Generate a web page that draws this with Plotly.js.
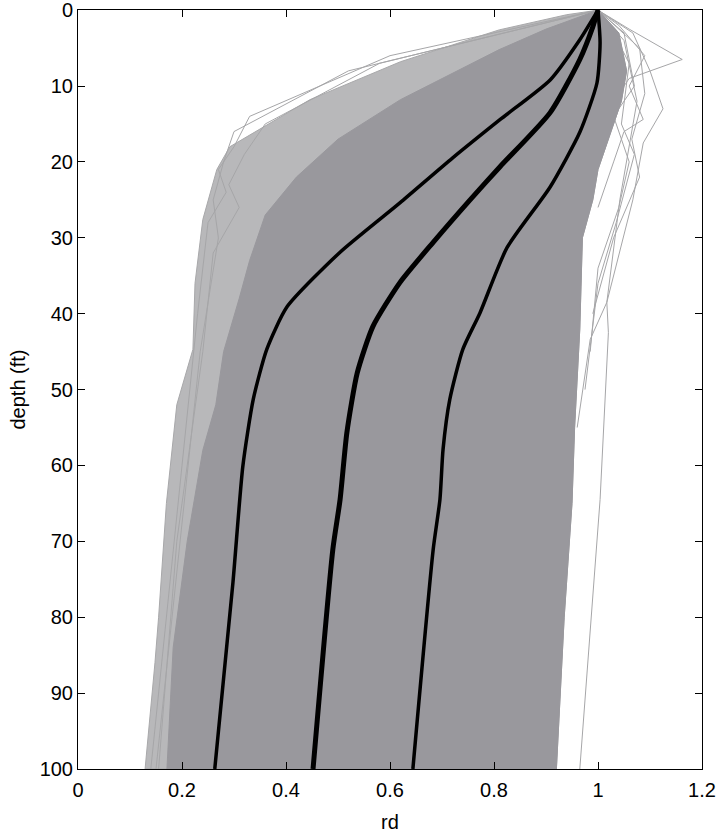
<!DOCTYPE html>
<html>
<head>
<meta charset="utf-8">
<script src="https://cdn.plot.ly/plotly-3.0.1.min.js"></script>
<style>html,body{margin:0;padding:0;background:#fff;}#chart{width:722px;height:833px;}</style>
</head>
<body>
<div id="chart"></div>
<script>
// ---- Data ----
// Black percentile curves (rd vs depth)
const lowDepth  = [0, 3.9, 9.2, 14.4, 19.5, 25.4, 31.9, 39.1, 44.7, 51.3, 60.1, 75.4, 100];
const lowRd     = [1.0, 0.965, 0.908, 0.812, 0.72, 0.619, 0.504, 0.402, 0.363, 0.337, 0.317, 0.298, 0.263];
const midDepth  = [0, 2.2, 6.5, 13.5, 20.6, 25.0, 30.6, 35.9, 41.7, 47.8, 55.7, 64.5, 71.1, 100];
const midRd     = [1.0, 0.99, 0.965, 0.908, 0.812, 0.754, 0.683, 0.619, 0.567, 0.537, 0.517, 0.504, 0.49, 0.452];
const highDepth = [0, 4.3, 9.6, 16.1, 23.3, 31.3, 39.9, 44.7, 51.3, 57.9, 64.5, 71.1, 100];
const highRd    = [1.0, 1.004, 0.998, 0.965, 0.908, 0.825, 0.773, 0.74, 0.715, 0.702, 0.696, 0.683, 0.644];

// Envelope of the dense band of simulated profiles
const denseLeftDepth  = [0, 2.5, 5.2, 11.8, 17, 22, 27, 33, 38, 45, 52, 58, 70, 84, 100];
const denseLeftRd     = [1.0, 0.9, 0.81, 0.62, 0.5, 0.42, 0.36, 0.33, 0.31, 0.28, 0.265, 0.24, 0.21, 0.183, 0.171];
const denseRightDepth = [0, 3, 8, 12, 16, 21, 25, 30, 42, 55, 65, 80, 100];
const denseRightRd    = [1.0, 1.04, 1.055, 1.045, 1.025, 1.0, 0.99, 0.97, 0.965, 0.955, 0.95, 0.935, 0.92];

// Outer envelope of the sparse (lighter) profiles on the left
const outerLeftDepth = [0, 0.6, 2.6, 6.8, 11.8, 18, 21, 27.6, 36, 44.7, 52, 65, 80, 86, 100];
const outerLeftRd    = [1.0, 0.94, 0.81, 0.62, 0.446, 0.292, 0.267, 0.24, 0.225, 0.221, 0.19, 0.17, 0.155, 0.148, 0.129];

// Individual outlying profiles
const out1Depth = [0, 2.5, 6.5, 9, 12, 16];
const out1Rd    = [1.0, 1.06, 1.162, 1.06, 1.03, 1.02];
const out2Depth = [0, 3, 8, 13, 17.5, 25, 38.5, 43.4, 55];
const out2Rd    = [1.0, 1.067, 1.1, 1.125, 1.087, 1.067, 1.017, 0.985, 0.96];
const out3Depth = [0, 2, 6, 10, 14.4, 16, 20, 26];
const out3Rd    = [1.0, 1.04, 1.09, 1.06, 1.087, 1.05, 1.03, 1.0];
const out4Depth = [0, 3, 10, 14, 20, 26, 34, 45];
const out4Rd    = [1.0, 1.05, 1.07, 1.03, 1.06, 1.04, 1.0, 0.985];
const out5Depth = [0, 4, 12, 18, 25, 38.5, 42.5, 64.5, 100];
const out5Rd    = [1.0, 1.05, 1.075, 1.06, 1.042, 1.017, 1.02, 1.004, 0.965];
const out6Depth = [0, 6, 14, 18, 21, 24, 28, 40, 60, 100];
const out6Rd    = [1.0, 0.6, 0.33, 0.3, 0.27, 0.285, 0.25, 0.23, 0.2, 0.14];
const out7Depth = [0, 7, 15, 19, 23, 26, 32, 45, 70, 100];
const out7Rd    = [1.0, 0.58, 0.36, 0.32, 0.29, 0.31, 0.26, 0.24, 0.19, 0.155];
const out8Depth = [0, 5, 11, 17, 22, 30, 40];
const out8Rd    = [1.0, 1.08, 1.09, 1.065, 1.08, 1.03, 0.99];
const out9Depth = [0, 3, 7, 15, 19, 28, 36, 50];
const out9Rd    = [1.0, 1.03, 1.06, 1.045, 1.07, 1.035, 1.0, 0.975];
const out10Depth = [0, 8, 16, 20, 25, 30, 45, 80, 100];
const out10Rd    = [1.0, 0.52, 0.3, 0.28, 0.26, 0.27, 0.235, 0.18, 0.15];

const xTicks = [0, 0.2, 0.4, 0.6, 0.8, 1, 1.2];
const yTicks = [0, 10, 20, 30, 40, 50, 60, 70, 80, 90, 100];

// ---- Build traces ----
const fringeX = outerLeftRd.concat(denseRightRd.slice().reverse());
const fringeY = outerLeftDepth.concat(denseRightDepth.slice().reverse());
const denseX = denseLeftRd.concat(denseRightRd.slice().reverse());
const denseY = denseLeftDepth.concat(denseRightDepth.slice().reverse());

const traces = [];
traces.push({x: fringeX, y: fringeY, type: 'scatter', mode: 'lines', fill: 'toself',
  fillcolor: '#b8b8ba', line: {color: '#a8a8aa', width: 1}, hoverinfo: 'skip', showlegend: false});
const outs = [[out1Rd,out1Depth],[out2Rd,out2Depth],[out3Rd,out3Depth],[out4Rd,out4Depth],
              [out5Rd,out5Depth],[out6Rd,out6Depth],[out7Rd,out7Depth],[out8Rd,out8Depth],
              [out9Rd,out9Depth],[out10Rd,out10Depth]];
outs.forEach(o => traces.push({x: o[0], y: o[1], type: 'scatter', mode: 'lines',
  line: {color: '#a6a6a8', width: 1}, hoverinfo: 'skip', showlegend: false}));
traces.push({x: denseX, y: denseY, type: 'scatter', mode: 'lines', fill: 'toself',
  fillcolor: '#99989d', line: {color: '#99989d', width: 1}, hoverinfo: 'skip', showlegend: false});
traces.push({x: lowRd, y: lowDepth, type: 'scatter', mode: 'lines', line: {color: '#000', width: 3.5, shape: 'spline', smoothing: 0.6}, showlegend: false});
traces.push({x: midRd, y: midDepth, type: 'scatter', mode: 'lines', line: {color: '#000', width: 5, shape: 'spline', smoothing: 0.6}, showlegend: false});
traces.push({x: highRd, y: highDepth, type: 'scatter', mode: 'lines', line: {color: '#000', width: 3.5, shape: 'spline', smoothing: 0.6}, showlegend: false});

const font = {family: 'Liberation Sans, Arial, sans-serif', size: 20, color: '#000'};
const layout = {
  width: 722, height: 833,
  margin: {l: 78, r: 20, t: 10, b: 64},
  paper_bgcolor: '#fff', plot_bgcolor: '#fff',
  font: font,
  showlegend: false,
  xaxis: {range: [0, 1.2], tickvals: xTicks, ticktext: xTicks.map(String), ticks: 'inside', ticklen: 7,
    tickcolor: '#000', showline: true, linecolor: '#000', linewidth: 1, mirror: 'allticks',
    showgrid: false, zeroline: false, tickfont: font, ticklabelstandoff: 3,
    title: {text: 'rd', font: font, standoff: 14}},
  yaxis: {range: [100, -0.02], tickvals: yTicks, ticktext: yTicks.map(String), ticks: 'inside', ticklen: 7,
    tickcolor: '#000', showline: true, linecolor: '#000', linewidth: 1, mirror: 'allticks',
    showgrid: false, zeroline: false, tickfont: font, ticklabeloverflow: 'allow',
    title: {text: 'depth (ft)', font: font, standoff: 8}}
};
Plotly.newPlot('chart', traces, layout, {displayModeBar: false, staticPlot: true});
</script>
</body>
</html>
